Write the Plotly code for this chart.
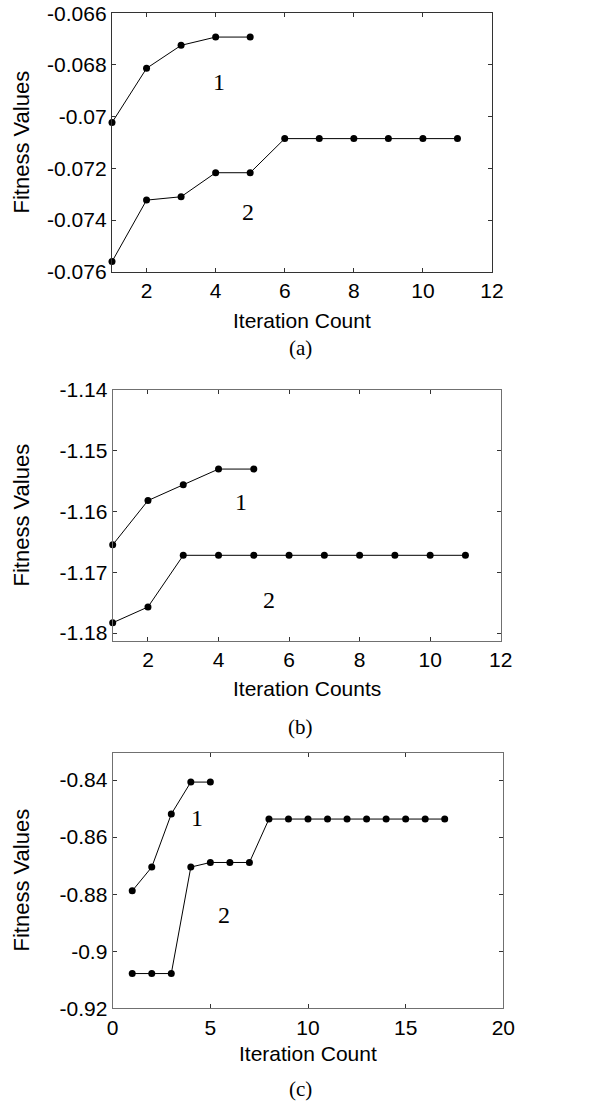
import plotly.graph_objects as go

# ---------------- data ----------------
a_x1 = [1, 2, 3, 4, 5]
a_y1 = [-0.07023, -0.06813, -0.06724, -0.06692, -0.06692]
a_x2 = [1, 2, 3, 4, 5, 6, 7, 8, 9, 10, 11]
a_y2 = [-0.07561, -0.07323, -0.07310, -0.07217, -0.07217, -0.07085,
        -0.07085, -0.07085, -0.07085, -0.07085, -0.07085]

b_x1 = [1, 2, 3, 4, 5]
b_y1 = [-1.16548, -1.15819, -1.15559, -1.15301, -1.15301]
b_x2 = [1, 2, 3, 4, 5, 6, 7, 8, 9, 10, 11]
b_y2 = [-1.1783, -1.1757, -1.1672, -1.1672, -1.1672, -1.1672,
        -1.1672, -1.1672, -1.1672, -1.1672, -1.1672]

c_x1 = [1, 2, 3, 4, 5]
c_y1 = [-0.87883, -0.87051, -0.85191, -0.8407, -0.8407]
c_x2 = [1, 2, 3, 4, 5, 6, 7, 8, 9, 10, 11, 12, 13, 14, 15, 16, 17]
c_y2 = [-0.90782, -0.90782, -0.90782, -0.8705, -0.86888, -0.86888, -0.86888,
        -0.85366, -0.85366, -0.85366, -0.85366, -0.85366, -0.85366, -0.85366,
        -0.85366, -0.85366, -0.85366]

a_xticks = [2, 4, 6, 8, 10, 12]
a_yticks = [-0.066, -0.068, -0.07, -0.072, -0.074, -0.076]
a_ytext = ["-0.066", "-0.068", "-0.07", "-0.072", "-0.074", "-0.076"]
b_xticks = [2, 4, 6, 8, 10, 12]
b_yticks = [-1.14, -1.15, -1.16, -1.17, -1.18]
b_ytext = ["-1.14", "-1.15", "-1.16", "-1.17", "-1.18"]
c_xticks = [0, 5, 10, 15, 20]
c_yticks = [-0.84, -0.86, -0.88, -0.9, -0.92]
c_ytext = ["-0.84", "-0.86", "-0.88", "-0.9", "-0.92"]

xtitles = ["Iteration Count", "Iteration Counts", "Iteration Count"]
captions = ["(a)", "(b)", "(c)"]
curve_labels = ["1", "2"]

# ---------------- figure ----------------
W, H = 601, 1103
fig = go.Figure()

def py(px):
    return 1 - px / H

panels = [
    dict(xs=(a_x1, a_x2), ys=(a_y1, a_y2), xd=[112 / W, 492 / W], yd=[py(271.7), py(13.3)],
         xr=[1, 12], yr=[-0.076, -0.066], xt=a_xticks, yt=a_yticks, ytt=a_ytext,
         lab=[(4.1, -0.06865), (4.94, -0.07368)], frame="#333333",
         titley=320, capy=348),
    dict(xs=(b_x1, b_x2), ys=(b_y1, b_y2), xd=[112.7 / W, 500.7 / W], yd=[py(641), py(390)],
         xr=[1, 12], yr=[-1.1813, -1.14], xt=b_xticks, yt=b_yticks, ytt=b_ytext,
         lab=[(4.63, -1.1585), (5.43, -1.1745)], frame="#707070",
         titley=688, capy=727),
    dict(xs=(c_x1, c_x2), ys=(c_y1, c_y2), xd=[112.7 / W, 503.3 / W], yd=[py(1008.3), py(752.7)],
         xr=[0, 20], yr=[-0.92, -0.8304], xt=c_xticks, yt=c_yticks, ytt=c_ytext,
         lab=[(4.3, -0.8534), (5.7, -0.8872)], frame="#707070",
         titley=1053, capy=1089),
]

tickfont = dict(family="Liberation Sans, Arial, sans-serif", size=21, color="black")
annots = []
for i, p in enumerate(panels):
    n = "" if i == 0 else str(i + 1)
    xa, ya = "x" + n, "y" + n
    for xs, ys in zip(p["xs"], p["ys"]):
        fig.add_trace(go.Scatter(x=xs, y=ys, mode="lines+markers", xaxis=xa, yaxis=ya,
                                 line=dict(color="black", width=1),
                                 marker=dict(color="black", size=7), showlegend=False,
                                 cliponaxis=False))
    common = dict(showline=True, linecolor=p["frame"], linewidth=1.3, mirror="ticks",
                  ticks="inside", ticklen=4, tickcolor="#333333", tickwidth=1,
                  showgrid=False, zeroline=False, tickfont=tickfont, automargin=False)
    fig.layout["xaxis" + n] = dict(domain=p["xd"], range=p["xr"], tickvals=p["xt"],
                                   anchor=ya, **common)
    fig.layout["yaxis" + n] = dict(domain=p["yd"], range=p["yr"], tickvals=p["yt"],
                                   ticktext=p["ytt"], anchor=xa, **common)
    for (lx, ly), t in zip(p["lab"], curve_labels):
        annots.append(dict(x=lx, y=ly, xref=xa, yref=ya, text=t, showarrow=False,
                           xanchor="center", yanchor="middle",
                           font=dict(family="Liberation Serif, Times New Roman, serif",
                                     size=24, color="black")))
    xmid = (p["xd"][0] + p["xd"][1]) / 2
    annots.append(dict(x=xmid, y=py(p["titley"]), xref="paper", yref="paper",
                       text=xtitles[i], showarrow=False, xanchor="center", yanchor="middle",
                       font=tickfont))
    annots.append(dict(x=300 / W, y=py(p["capy"]), xref="paper", yref="paper",
                       text=captions[i], showarrow=False, xanchor="center", yanchor="middle",
                       font=dict(family="Liberation Serif, Times New Roman, serif",
                                 size=21, color="black")))
    ymid = (p["yd"][0] + p["yd"][1]) / 2
    annots.append(dict(x=21 / W, y=ymid, xref="paper", yref="paper", text="Fitness Values",
                       textangle=-90, showarrow=False, xanchor="center", yanchor="middle",
                       font=dict(family="Liberation Sans, Arial, sans-serif", size=22,
                                 color="black")))

fig.update_layout(width=W, height=H,
                  margin=dict(l=0, r=0, t=0, b=0, pad=0, autoexpand=False),
                  paper_bgcolor="white", plot_bgcolor="white", annotations=annots)

fig.write_html("out.html", config={"displayModeBar": False},
               post_script="document.body.style.margin='0';document.body.style.padding='0';")
